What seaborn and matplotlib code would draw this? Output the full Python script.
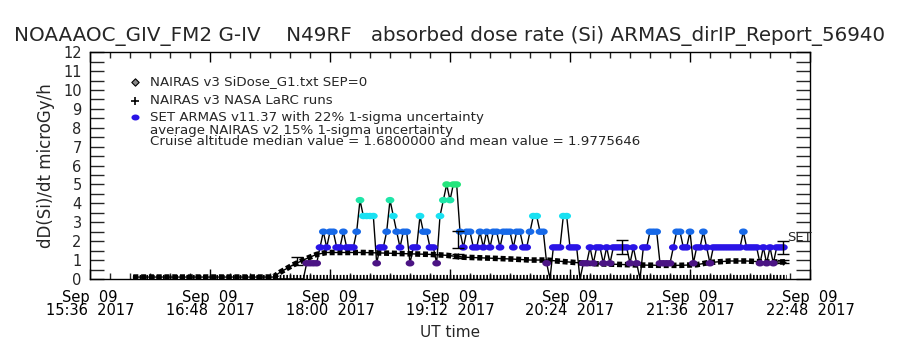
import numpy as np
import pandas as pd
import matplotlib
matplotlib.use("Agg")
import matplotlib.pyplot as plt
import matplotlib.dates as mdates
from matplotlib.path import Path
from matplotlib.ticker import MultipleLocator
import seaborn as sns

DAY = "2017-09-09 "

# SET ARMAS dose rate (microGy/h), one reading every 2 min starting 17:26 UT
set_start = "17:26"
set_dose = [
    0.0, 0.0, 0.0, 0.0, 0.0, 0.0, 0.0, 0.0, 0.0, 0.0,
    0.83, 0.83, 0.83, 0.83, 1.67, 2.5, 1.67, 2.5, 2.5, 1.67,
    1.67, 2.5, 1.67, 1.67, 1.67, 2.5, 4.17, 3.33, 3.33, 3.33,
    3.33, 0.83, 1.67, 1.67, 2.5, 4.17, 3.33, 2.5, 1.67, 2.5,
    2.5, 0.83, 1.67, 1.67, 3.33, 2.5, 2.5, 1.67, 1.67, 0.83,
    3.33, 4.17, 5.0, 4.17, 5.0, 5.0, 2.5, 1.67, 2.5, 2.5,
    1.67, 1.67, 2.5, 1.67, 2.5, 1.67, 2.5, 2.5, 1.67, 2.5,
    2.5, 2.5, 1.67, 2.5, 2.5, 1.67, 1.67, 2.5, 3.33, 3.33,
    2.5, 2.5, 0.83, 0.0, 1.67, 1.67, 1.67, 3.33, 3.33, 1.67,
    1.67, 1.67, 0.0, 0.83, 0.83, 1.67, 0.83, 1.67, 1.67, 0.83,
    1.67, 0.83, 1.67, 1.67, 1.67, 1.67, 1.67, 0.83, 1.67, 0.83,
    0.0, 1.67, 1.67, 2.5, 2.5, 2.5, 0.83, 0.83, 0.83, 0.83,
    1.67, 2.5, 2.5, 1.67, 1.67, 2.5, 0.83, 1.67, 1.67, 2.5,
    1.67, 0.83, 1.67, 1.67, 1.67, 1.67, 1.67, 1.67, 1.67, 1.67,
    1.67, 2.5, 1.67, 1.67, 1.67, 1.67, 0.83, 1.67, 0.83, 1.67,
    0.83, 1.67, 1.67, 1.67,
]
set_colors = {0.83: "#4b1484", 1.67: "#2a14e6", 2.5: "#1769e8",
              3.33: "#19e1f2", 4.17: "#1fe6a8", 5.0: "#25e57c"}

# SET averages with 22% 1-sigma bars
set_err_time = ["17:40", "19:17", "20:55", "22:32"]
set_err_mean = [0.95, 2.1, 1.67, 1.66]
set_err_sd = [0.2, 0.45, 0.37, 0.36]

# NAIRAS v3 SiDose_G1 model along the flight track
model_time = ["16:02", "17:26", "17:30", "17:38", "17:46", "17:52", "17:58", "18:20",
              "18:40", "19:00", "19:10", "19:20", "19:36", "19:50", "20:00", "20:10",
              "20:20", "20:30", "20:40", "20:50", "21:00", "21:10", "21:20", "21:30",
              "21:40", "21:46", "21:52", "22:00", "22:10", "22:20", "22:33"]
model_dose = [0.1, 0.1, 0.35, 0.75, 1.08, 1.3, 1.4, 1.4,
              1.35, 1.3, 1.25, 1.15, 1.1, 1.05, 1.0, 1.0,
              0.92, 0.85, 0.8, 0.78, 0.75, 0.73, 0.72, 0.72,
              0.75, 0.85, 0.9, 0.95, 0.95, 0.9, 0.9]

# NAIRAS v3 NASA LaRC runs
larc_base_time = ["16:02", "22:34"]
larc_base_dose = [0.08, 0.08]
larc_time = ["19:17", "22:32"]
larc_dose = [1.2, 0.9]
larc_sd = [0.1, 0.08]

xtick_times = ["15:36", "16:48", "18:00", "19:12", "20:24", "21:36", "22:48"]

title = "NOAAAOC_GIV_FM2 G-IV    N49RF   absorbed dose rate (Si) ARMAS_dirIP_Report_56940"
legend_lines = ["NAIRAS v3 SiDose_G1.txt SEP=0",
                "NAIRAS v3 NASA LaRC runs",
                "SET ARMAS v11.37 with 22% 1-sigma uncertainty",
                "average NAIRAS v2 15% 1-sigma uncertainty",
                "Cruise altitude median value = 1.6800000 and mean value = 1.9775646"]


def ut(times):
    return pd.to_datetime([DAY + t for t in times])


# flat blob marker like the IDL symbols
theta = np.linspace(0, 2 * np.pi, 25)
blob = Path(np.column_stack([1.35 * np.cos(theta), np.sin(theta)]), closed=True)

sns.set_theme(style="white")
plt.rcParams["font.family"] = ["DejaVu Sans"]

set_df = pd.DataFrame({
    "time": pd.date_range(DAY + set_start, periods=len(set_dose), freq="2min"),
    "dose": set_dose,
})
model_df = pd.DataFrame({"time": ut(model_time), "dose": model_dose})

fig = plt.figure(figsize=(9, 3.5), dpi=100)
ax = fig.add_axes([0.1, 0.203, 0.8, 0.648])

# LaRC baseline (dense small markers at the bottom)
ax.plot(ut(larc_base_time), larc_base_dose, color="black", lw=3,
        linestyle=(0, (0.4, 0.4)))

# model: dense black diamonds
ax.plot(model_df["time"], model_df["dose"], color="black", lw=4,
        linestyle=(0, (0.9, 0.5)))
sns.lineplot(data=model_df, x="time", y="dose", color="black", lw=1, ax=ax)

# SET measurements
sns.lineplot(data=set_df, x="time", y="dose", color="black", lw=1,
             estimator=None, sort=False, ax=ax)
nz = set_df[set_df["dose"] > 0]
sns.scatterplot(data=nz, x="time", y="dose", hue="dose", palette=set_colors,
                marker=blob, s=40, linewidth=0, legend=False, zorder=3, ax=ax)

ax.errorbar(ut(set_err_time), set_err_mean, yerr=set_err_sd, fmt="none",
            ecolor="black", elinewidth=1, capsize=4.5, capthick=1, zorder=4)
ax.errorbar(ut(larc_time), larc_dose, yerr=larc_sd, fmt="+", color="black",
            ms=5, elinewidth=1, capsize=4, capthick=1, zorder=4)

ax.text(pd.Timestamp(DAY + "22:34"), 2.2, "SET", fontsize=9.5, ha="left", va="center")

ax.set_xlim(pd.Timestamp(DAY + "15:36"), pd.Timestamp(DAY + "22:48"))
ax.set_ylim(0, 12)
ax.set_xticks(ut(xtick_times))
ax.xaxis.set_major_formatter(mdates.DateFormatter("%b  %d\n%H:%M  %Y"))
ax.xaxis.set_minor_locator(mdates.MinuteLocator(byminute=[0, 12, 24, 36, 48]))
ax.yaxis.set_major_locator(MultipleLocator(1))
ax.yaxis.set_minor_locator(MultipleLocator(0.5))
ax.tick_params(which="major", axis="x", direction="in", length=7, width=1,
               top=True, bottom=True, labelsize=10.5, pad=8, colors="black")
ax.tick_params(which="minor", axis="x", direction="in", length=4, width=1,
               top=True, bottom=True)
ax.tick_params(which="both", axis="y", direction="in", length=10, width=1,
               left=True, right=True, labelsize=10.5, pad=6)
for lbl in ax.get_xticklabels():
    lbl.set_linespacing(0.85)
for sp in ax.spines.values():
    sp.set_color("black")
    sp.set_linewidth(1)

ax.set_xlabel("UT time", fontsize=11, labelpad=5)
ax.set_ylabel("dD(Si)/dt microGy/h", fontsize=12, labelpad=6)
fig.text(0.5, 0.897, title, ha="center", va="center", fontsize=14.3)

# legend block
ax.scatter([0.0625], [0.868], marker="D", s=14, facecolor="#888888",
           edgecolor="black", linewidth=0.8, transform=ax.transAxes, clip_on=False)
ax.scatter([0.0625], [0.784], marker="+", s=30, color="black", linewidth=1.2,
           transform=ax.transAxes, clip_on=False)
ax.scatter([0.0625], [0.714], marker=blob, s=34, color="#2a14e6", linewidth=0,
           transform=ax.transAxes, clip_on=False)
for y, txt in zip([0.872, 0.788, 0.714, 0.655, 0.606], legend_lines):
    ax.text(0.0833, y, txt, fontsize=9.6, ha="left", va="center", transform=ax.transAxes)

fig.savefig("out.png", dpi=100)
